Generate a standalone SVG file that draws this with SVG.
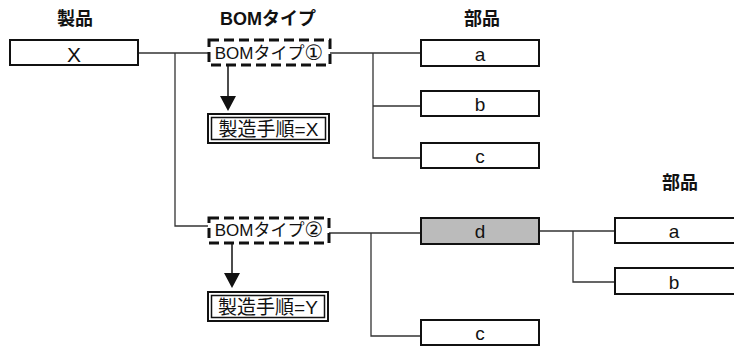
<svg xmlns="http://www.w3.org/2000/svg" width="734" height="347" viewBox="0 0 734 347">
<defs>
<style>
text{font-family:"Liberation Sans","Noto Sans CJK JP",sans-serif;fill:#111;text-anchor:middle;dominant-baseline:central}
.hdr{font-size:18px;font-weight:bold}
.box{fill:#fff;stroke:#111;stroke-width:2}
.sh{fill:none;stroke:#111;stroke-width:1.5}
.bom{fill:#fff;stroke:#111;stroke-width:3;stroke-dasharray:10 5}
.lbl{font-size:19px}
.blbl{font-size:17px}
.cjk{font-family:"DejaVu Sans","Noto Sans CJK JP",sans-serif;font-size:21px}
.proc{font-size:19px}
.con{fill:none;stroke:#333;stroke-width:1.3}
.arr{fill:none;stroke:#111;stroke-width:1.5}
</style>
</defs>
<g id="headers">
<text class="hdr" x="75" y="19">製品</text>
<text class="hdr" x="268" y="19">BOMタイプ</text>
<text class="hdr" x="482" y="19">部品</text>
<text class="hdr" x="680" y="183">部品</text>
</g>
<g id="connectors">
<path class="con" d="M138,53 H208"/>
<path class="con" d="M175,53 V226 H208"/>
<path class="con" d="M330,53 H421"/>
<path class="con" d="M373,53 V158 H421"/>
<path class="con" d="M373,106 H421"/>
<path class="con" d="M329,233 H421"/>
<path class="con" d="M371,233 V336 H421"/>
<path class="con" d="M539,231 H615"/>
<path class="con" d="M573,231 V282 H615"/>
<path class="arr" d="M228,66 V96"/>
<path d="M220,96 L236,96 L228,111 Z" fill="#111"/>
<path class="arr" d="M232,243 V273"/>
<path d="M224,273 L240,273 L232,288 Z" fill="#111"/>
</g>
<g id="node-X">
<rect class="box" x="10" y="40" width="128" height="25"/>
<text x="74" y="54" style="font-size:21px">X</text>
</g>
<g id="node-bom1">
<rect class="bom" x="209" y="40" width="121" height="25"/>
<text class="blbl" x="269" y="53">BOMタイプ<tspan class="cjk">①</tspan></text>
</g>
<g id="node-procX">
<rect class="box" x="208" y="114" width="121" height="29"/>
<rect class="sh" x="211.5" y="117.5" width="114" height="22"/>
<text class="proc" x="268.5" y="129">製造手順=X</text>
</g>
<g id="node-a1">
<rect class="box" x="421" y="40" width="118" height="26"/>
<text class="lbl" x="480" y="54">a</text>
</g>
<g id="node-b1">
<rect class="box" x="421" y="91" width="118" height="25"/>
<text class="lbl" x="480" y="104">b</text>
</g>
<g id="node-c1">
<rect class="box" x="421" y="143" width="118" height="25"/>
<text class="lbl" x="480" y="156">c</text>
</g>
<g id="node-bom2">
<rect class="bom" x="209" y="218" width="120" height="25"/>
<text class="blbl" x="269" y="230">BOMタイプ<tspan class="cjk">②</tspan></text>
</g>
<g id="node-procY">
<rect class="box" x="208" y="292" width="120" height="29"/>
<rect class="sh" x="211.5" y="295.5" width="113" height="22"/>
<text class="proc" x="268" y="307">製造手順=Y</text>
</g>
<g id="node-d">
<rect class="box" x="421" y="218" width="118" height="26" style="fill:#bbb"/>
<text class="lbl" x="480" y="231">d</text>
</g>
<g id="node-c2">
<rect class="box" x="421" y="320" width="118" height="25"/>
<text class="lbl" x="480" y="333">c</text>
</g>
<g id="node-a2">
<rect class="box" x="615" y="218" width="130" height="25"/>
<text class="lbl" x="674" y="231">a</text>
</g>
<g id="node-b2">
<rect class="box" x="615" y="268" width="130" height="26"/>
<text class="lbl" x="674" y="282">b</text>
</g>
</svg>
